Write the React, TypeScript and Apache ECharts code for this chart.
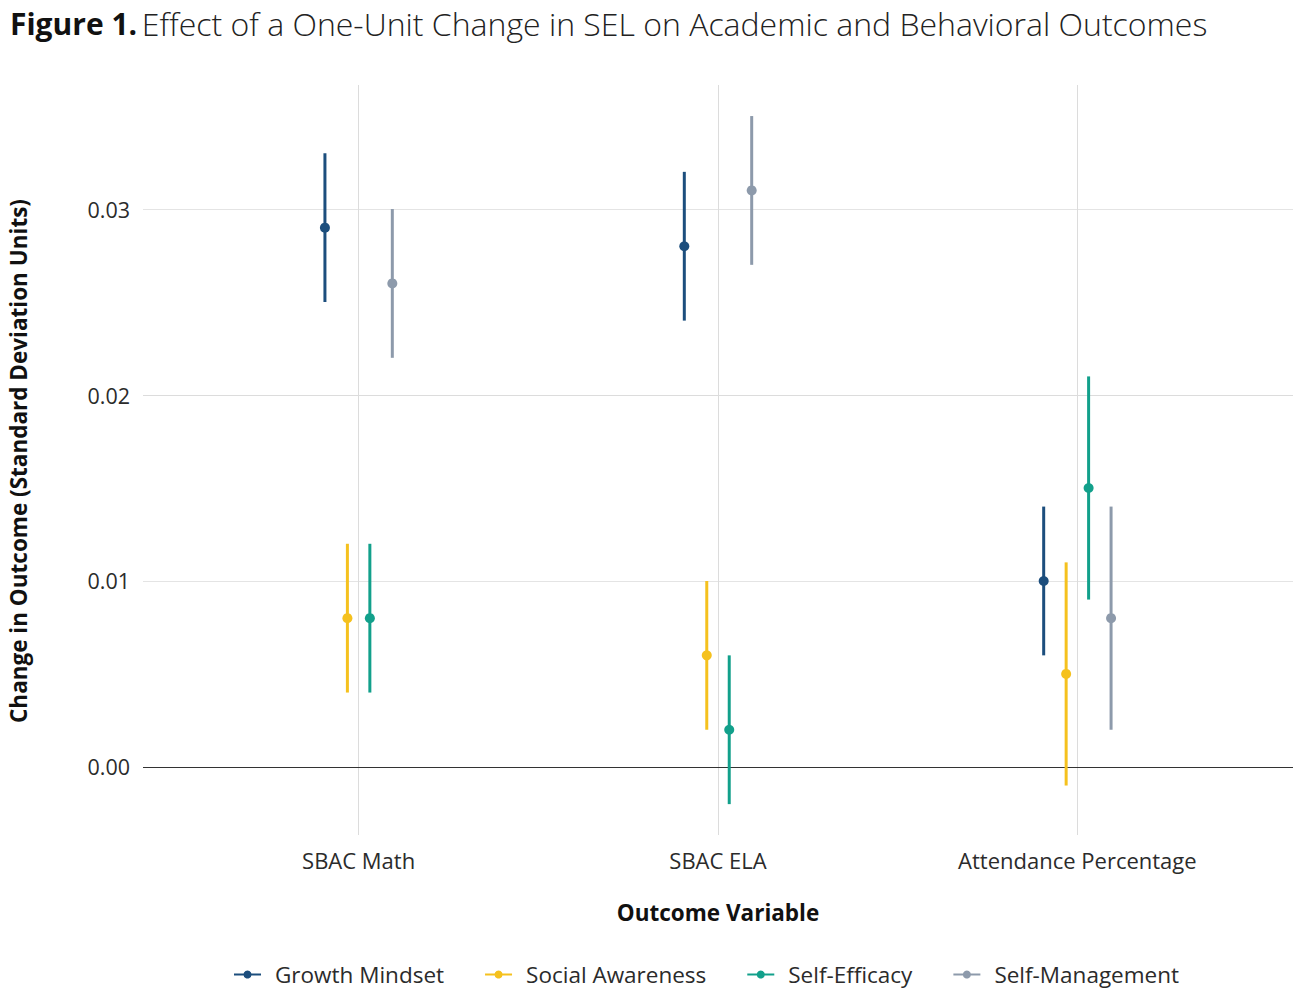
import React, { useEffect, useRef } from "react";
import * as echarts from "echarts";

const categories = ["SBAC Math", "SBAC ELA", "Attendance Percentage"];
const seriesNames = ["Growth Mindset", "Social Awareness", "Self-Efficacy", "Self-Management"];
const colors = ["#1c4e7d", "#f5c11e", "#12a08b", "#8d9aab"];

// [estimate, low, high] per category
const growthMindset = [
  [0.029, 0.025, 0.033],
  [0.028, 0.024, 0.032],
  [0.010, 0.006, 0.014],
];
const socialAwareness = [
  [0.008, 0.004, 0.012],
  [0.006, 0.002, 0.010],
  [0.005, -0.001, 0.011],
];
const selfEfficacy = [
  [0.008, 0.004, 0.012],
  [0.002, -0.002, 0.006],
  [0.015, 0.009, 0.021],
];
const selfManagement = [
  [0.026, 0.022, 0.030],
  [0.031, 0.027, 0.035],
  [0.008, 0.002, 0.014],
];
const yTicks = [0, 0.01, 0.02, 0.03];
const yMinorGrid = [0.005, 0.015, 0.025, 0.035];

const allData = [growthMindset, socialAwareness, selfEfficacy, selfManagement];
const dodge = [-0.09375, -0.03125, 0.03125, 0.09375];

const FONT = "'Open Sans'";

export default function App() {
  const ref = useRef<HTMLDivElement>(null);
  useEffect(() => {
    if (!ref.current) return;
    const chart = echarts.init(ref.current, null, { renderer: "svg" });

    const gridSeries: any = {
      type: "line",
      name: "__grid",
      data: [],
      silent: true,
      z: 0,
      markLine: {
        silent: true,
        symbol: "none",
        label: { show: false },
        animation: false,
        data: [
          ...yTicks.filter((v) => v !== 0).map((v) => ({ yAxis: v, lineStyle: { color: "#dcdcdc", width: 1, type: "solid" } })),
          ...yMinorGrid.map((v) => ({ yAxis: v, lineStyle: { color: "#e4e4e4", width: 1, type: "solid" } })),
          ...categories.map((_, i) => ({ xAxis: i + 1, lineStyle: { color: "#dcdcdc", width: 1, type: "solid" } })),
          { yAxis: 0, lineStyle: { color: "#333333", width: 1.2, type: "solid" } },
        ],
      },
    };

    const legendSeries = seriesNames.map((name, s) => ({
      type: "line",
      name,
      data: [],
      symbol: "circle",
      symbolSize: 8,
      itemStyle: { color: colors[s] },
      lineStyle: { color: colors[s], width: 3 },
    }));

    const customSeries = seriesNames.map((name, s) => ({
      type: "custom",
      name,
      z: 5,
      data: allData[s].map((d, i) => [i, d[0], d[1], d[2]]),
      encode: { x: 0, y: [1, 2, 3] },
      itemStyle: { color: colors[s] },
      renderItem: (params: any, api: any) => {
        const xv = api.value(0) + 1 + dodge[s];
        const p = api.coord([xv, api.value(1)]);
        const lo = api.coord([xv, api.value(2)]);
        const hi = api.coord([xv, api.value(3)]);
        return {
          type: "group",
          children: [
            {
              type: "line",
              shape: { x1: lo[0], y1: lo[1], x2: hi[0], y2: hi[1] },
              style: { stroke: colors[s], lineWidth: 3 },
            },
            {
              type: "circle",
              shape: { cx: p[0], cy: p[1], r: 5 },
              style: { fill: colors[s] },
            },
          ],
        };
      },
    }));

    chart.setOption({
      animation: false,
      backgroundColor: "#ffffff",
      textStyle: { fontFamily: FONT },
      title: {
        left: 5,
        top: 2,
        text: "{b|Figure 1.} {l|Effect of a One-Unit Change in SEL on Academic and Behavioral Outcomes}",
        textStyle: {
          rich: {
            b: { fontFamily: FONT, fontSize: 30, fontWeight: "bold", color: "#111111" },
            l: { fontFamily: FONT, fontSize: 32, fontWeight: 300, color: "#222222" },
          },
        },
      },
      grid: { left: 143, right: 7, top: 85, bottom: 161, containLabel: false },
      xAxis: {
        type: "value",
        min: 0.4,
        max: 3.6,
        axisLine: { show: false },
        axisTick: { show: false },
        splitLine: { show: false },
        axisLabel: {
          customValues: [1, 2, 3],
          formatter: (v: number) => categories[Math.round(v) - 1] ?? "",
          fontSize: 22,
          color: "#2b2b2b",
          fontFamily: FONT,
          margin: 14,
        },
      },
      yAxis: {
        type: "value",
        min: -0.00366,
        max: 0.03667,
        axisLine: { show: false },
        axisTick: { show: false },
        splitLine: { show: false },
        axisLabel: {
          customValues: yTicks,
          formatter: (v: number) => v.toFixed(2),
          fontSize: 21.5,
          color: "#2b2b2b",
          fontFamily: FONT,
          margin: 13,
        },
      },
      legend: {
        data: seriesNames,
        bottom: 5,
        left: 228,
        itemWidth: 27,
        itemHeight: 10,
        itemGap: 40,
        textStyle: { fontSize: 22.5, color: "#2b2b2b", fontFamily: FONT, padding: [0, 0, 0, 9] },
      },
      graphic: [
        {
          type: "text",
          x: 18,
          y: 461,
          rotation: Math.PI / 2,
          style: {
            text: "Change in Outcome (Standard Deviation Units)",
            fontSize: 22.5,
            fontWeight: "bold",
            fontFamily: FONT,
            fill: "#111111",
            textAlign: "center",
            textVerticalAlign: "middle",
          },
        },
        {
          type: "text",
          x: 718,
          y: 912,
          style: {
            text: "Outcome Variable",
            fontSize: 22.5,
            fontWeight: "bold",
            fontFamily: FONT,
            fill: "#111111",
            textAlign: "center",
            textVerticalAlign: "middle",
          },
        },
      ],
      series: [gridSeries, ...legendSeries, ...customSeries],
    });
    return () => chart.dispose();
  }, []);
  return <div ref={ref} style={{ width: 1300, height: 996, position: "absolute", left: 0, top: 0 }} />;
}
